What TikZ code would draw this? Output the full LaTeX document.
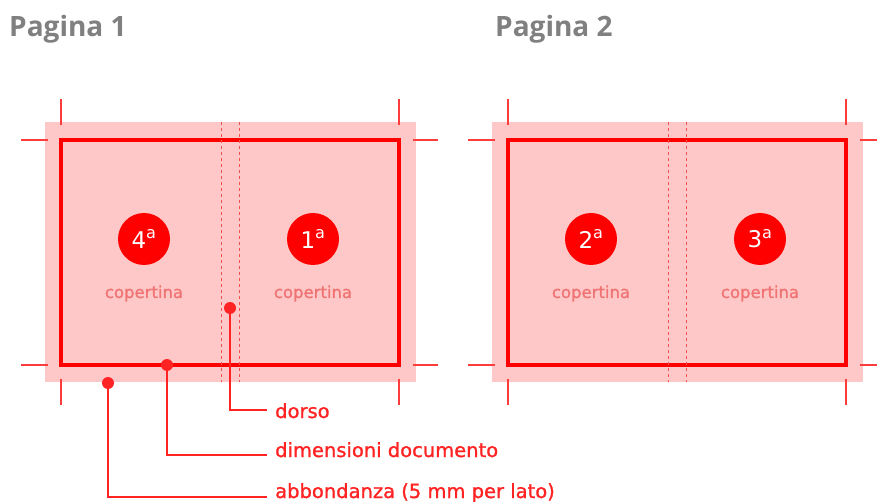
\documentclass[tikz,border=0pt]{standalone}
\usepackage{fontspec}
\setmainfont{DejaVu Sans}
\newfontfamily\labfont[FakeBold=1.2]{DejaVu Sans}
\newfontfamily\titlefont{Open Sans}
\definecolor{bleedc}{RGB}{255,200,200}
\definecolor{trimc}{RGB}{255,0,0}
\definecolor{cropc}{RGB}{255,60,60}
\definecolor{foldc}{RGB}{240,80,80}
\definecolor{labc}{RGB}{255,35,35}
\definecolor{copc}{RGB}{240,115,115}
\definecolor{titc}{RGB}{128,128,128}
\begin{document}
\begin{tikzpicture}[x=1pt,y=-1pt,
  bleedbox/.style={fill=bleedc},
  trimbox/.style={draw=trimc,line width=3.5pt},
  foldline/.style={draw=foldc,line width=1pt,dash pattern=on 3pt off 3pt},
  cropmark/.style={draw=cropc,line width=1.5pt},
  numdisc/.style={circle,fill=trimc,minimum size=52pt,inner sep=0pt,text=white,font=\fontsize{23}{23}\selectfont},
  coptext/.style={text=copc,anchor=base,inner sep=0pt,font=\labfont\fontsize{16.5}{17}\selectfont},
  leader/.style={draw=labc,line width=1.5pt},
  leaddot/.style={circle,fill=labc,minimum size=12pt,inner sep=0pt},
  labtext/.style={text=labc,anchor=base west,inner sep=0pt,font=\labfont\fontsize{19.5}{20}\selectfont},
  titletext/.style={text=titc,anchor=base west,inner sep=0pt,font=\titlefont\bfseries\fontsize{28}{28}\selectfont}]
\useasboundingbox (0,0) rectangle (877,502);
\foreach \o/\a/\b in {0/4/1, 447/2/3} {
  \begin{scope}[shift={(\o,0)}]
    \fill[bleedbox] (45,122) rectangle (416,382);
    \draw[trimbox] (61,140) rectangle (399,365);
    \draw[foldline] (221,122) -- (221,382);
    \draw[foldline] (239,122) -- (239,382);
    \foreach \cx in {61,399} {
      \draw[cropmark] (\cx,99) -- (\cx,125);
      \draw[cropmark] (\cx,379) -- (\cx,405);
    }
    \foreach \cy in {140,365} {
      \draw[cropmark] (21,\cy) -- (48,\cy);
      \draw[cropmark] (413,\cy) -- (438,\cy);
    }
    \node[numdisc] (n\a) at (144,239) {\a\textsuperscript{a}};
    \node[numdisc] (n\b) at (313,239) {\b\textsuperscript{a}};
    \node[coptext] (c\a) at (144,298) {copertina};
    \node[coptext] (c\b) at (313,298) {copertina};
  \end{scope}
}
\node[titletext] (t1) at (9,37) {Pagina 1};
\node[titletext] (t2) at (495,37) {Pagina 2};
\node[leaddot] (dd) at (230,308) {};
\node[leaddot] (dm) at (167,365) {};
\node[leaddot] (da) at (108,383) {};
\coordinate (ed) at (267,410);
\coordinate (em) at (267,455);
\coordinate (ea) at (267,497);
\node[labtext] (ld) at (275,418) {dorso};
\node[labtext] (lm) at (275,457) {dimensioni documento};
\node[labtext] (la) at (275,498) {abbondanza (5 mm per lato)};
\draw[leader] (dd.center) |- (ed);
\draw[leader] (dm.center) |- (em);
\draw[leader] (da.center) |- (ea);
\end{tikzpicture}
\end{document}
